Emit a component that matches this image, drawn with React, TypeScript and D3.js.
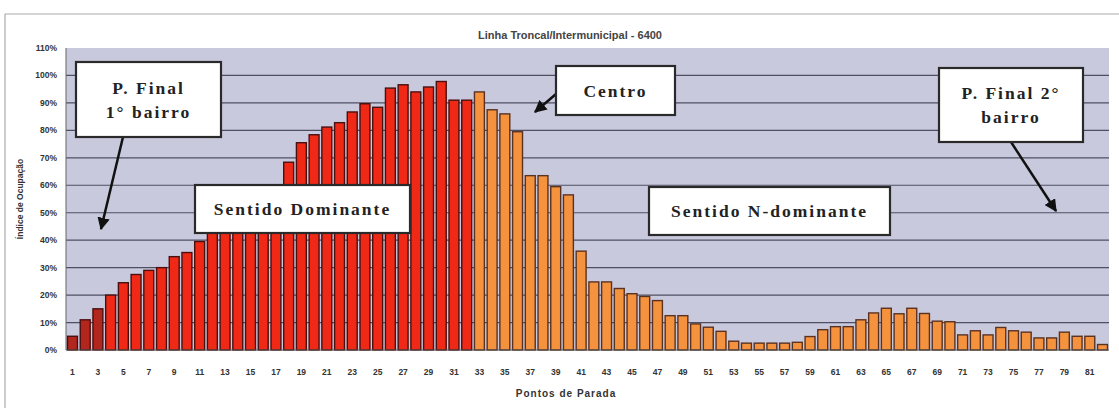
import React from "react";
import * as d3 from "d3";

const chartTitle = "Linha Troncal/Intermunicipal - 6400";
const xTitle = "Pontos de Parada";
const yTitle = "Índice de Ocupação";

// Ocupação (%) por ponto de parada — sentido dominante (pontos 1–32)
const dominantValues = [
  5, 11, 15, 20, 24.5, 27.5, 29, 30, 34, 35.5, 39.5, 45, 48, 51, 54, 57, 59,
  68.4, 75.5, 78.4, 81.2, 82.8, 86.7, 89.7, 88.4, 95.4, 96.6, 94, 95.8, 97.8,
  91, 91,
];
// sentido não dominante (pontos 33–82)
const nonDominantValues = [
  94, 87.5, 86, 79.5, 63.5, 63.5, 59.5, 56.5, 36, 24.8, 24.8, 22.4, 20.5, 19.5,
  18, 12.5, 12.5, 9.5, 8.3, 6.8, 3.2, 2.5, 2.5, 2.5, 2.5, 2.8, 4.9, 7.4, 8.5,
  8.5, 11, 13.5, 15.2, 13.2, 15.2, 13.3, 10.5, 10.3, 5.5, 7, 5.5, 8.2, 7, 6.5,
  4.4, 4.4, 6.5, 5, 5, 2,
];
const yTicks = [0, 10, 20, 30, 40, 50, 60, 70, 80, 90, 100, 110];

const W = 1119;
const H = 408;
const plot = { left: 66, right: 1109, top: 48, bottom: 350 };

export default function App() {
  const points = [
    ...dominantValues.map((v, i) => ({ stop: i + 1, v, dom: true })),
    ...nonDominantValues.map((v, i) => ({
      stop: dominantValues.length + i + 1,
      v,
      dom: false,
    })),
  ];
  const x = d3
    .scaleBand<number>()
    .domain(points.map((p) => p.stop))
    .range([plot.left, plot.right])
    .paddingInner(0.22)
    .paddingOuter(0.12);
  const y = d3.scaleLinear().domain([0, 110]).range([plot.bottom, plot.top]);
  const xLabels = points.map((p) => p.stop).filter((s) => s % 2 === 1);

  const serif = "'Liberation Serif', 'Times New Roman', serif";
  const sans = "'Liberation Sans', Arial, sans-serif";

  const box = (
    x0: number,
    y0: number,
    w: number,
    h: number,
    lines: string[],
    fs = 17.5
  ) => (
    <g>
      <rect x={x0} y={y0} width={w} height={h} fill="#fff" stroke="#2a2a2a" strokeWidth={2.2} />
      {lines.map((t, i) => (
        <text
          key={i}
          x={x0 + w / 2}
          y={y0 + h / 2 + (i - (lines.length - 1) / 2) * 24}
          textAnchor="middle"
          dominantBaseline="central"
          fontFamily={serif}
          fontWeight="bold"
          fontSize={fs}
          letterSpacing={2}
          fill="#222"
        >
          {t}
        </text>
      ))}
    </g>
  );

  return (
    <svg
      width={W}
      height={H}
      style={{ position: "absolute", left: 0, top: 0, background: "#fff" }}
    >
      <defs>
        <marker id="ah" viewBox="0 0 10 10" refX="9" refY="5" markerWidth="5" markerHeight="5" orient="auto">
          <path d="M0,0 L10,5 L0,10 z" fill="#111" />
        </marker>
      </defs>
      {/* frame */}
      <line x1={5} x2={W} y1={14} y2={14} stroke="#aaa" strokeWidth={1} />
      <line x1={5} x2={5} y1={14} y2={H} stroke="#999" strokeWidth={1} />

      <text x={570} y={35} textAnchor="middle" dominantBaseline="central" fontFamily={sans} fontWeight="bold" fontSize={11} fill="#444">
        {chartTitle}
      </text>

      {/* plot area */}
      <rect x={plot.left} y={plot.top} width={plot.right - plot.left} height={plot.bottom - plot.top} fill="#c9c9de" />
      {yTicks.map((t) => (
        <g key={t}>
          {t > 0 && t < 110 && (
            <line x1={plot.left} x2={plot.right} y1={y(t)} y2={y(t)} stroke="#4f4f64" strokeWidth={1.2} />
          )}
          <text x={57} y={y(t)} textAnchor="end" dominantBaseline="central" fontFamily={sans} fontWeight="bold" fontSize={8.5} fill="#333">
            {t}%
          </text>
        </g>
      ))}
      <line x1={plot.left} x2={plot.left} y1={plot.top} y2={plot.bottom} stroke="#666" strokeWidth={1} />

      {/* bars */}
      {points.map((p) => (
        <rect
          key={p.stop}
          x={x(p.stop)!}
          y={y(p.v)}
          width={x.bandwidth()}
          height={y(0) - y(p.v)}
          fill={p.dom ? (p.stop <= 3 ? "#b3261e" : "#f02816") : "#f5923e"}
          stroke={p.dom ? "#4a1010" : "#5a3222"}
          strokeWidth={1.4}
        />
      ))}
      <line x1={plot.left} x2={plot.right} y1={plot.bottom} y2={plot.bottom} stroke="#555" strokeWidth={1} />

      {/* x labels */}
      {xLabels.map((s) => (
        <text key={s} x={x(s)! + x.bandwidth() / 2} y={372} textAnchor="middle" dominantBaseline="central" fontFamily={sans} fontWeight="bold" fontSize={8.5} fill="#333">
          {s}
        </text>
      ))}
      <text x={566} y={393} textAnchor="middle" dominantBaseline="central" fontFamily={sans} fontWeight="bold" fontSize={10} fill="#333" letterSpacing={1}>
        {xTitle}
      </text>
      <text
        transform={`translate(20,${(plot.top + plot.bottom) / 2}) rotate(-90)`}
        textAnchor="middle"
        dominantBaseline="central"
        fontFamily={sans}
        fontWeight="bold"
        fontSize={8.5}
        fill="#333"
      >
        {yTitle}
      </text>

      {/* annotations */}
      <line x1={123} y1={137} x2={101} y2={229} stroke="#111" strokeWidth={2.5} markerEnd="url(#ah)" />
      {box(76, 62, 145, 75, ["P. Final", "1° bairro"])}
      {box(195, 185, 215, 48, ["Sentido Dominante"])}
      <line x1={556} y1={94} x2={535} y2={112} stroke="#111" strokeWidth={2.5} markerEnd="url(#ah)" />
      {box(556, 66, 119, 49, ["Centro"])}
      {box(649, 187, 241, 48, ["Sentido N-dominante"])}
      <line x1={1011} y1={142} x2={1056} y2={211} stroke="#111" strokeWidth={2.5} markerEnd="url(#ah)" />
      {box(939, 68, 144, 74, ["P. Final 2°", "bairro"])}
    </svg>
  );
}
